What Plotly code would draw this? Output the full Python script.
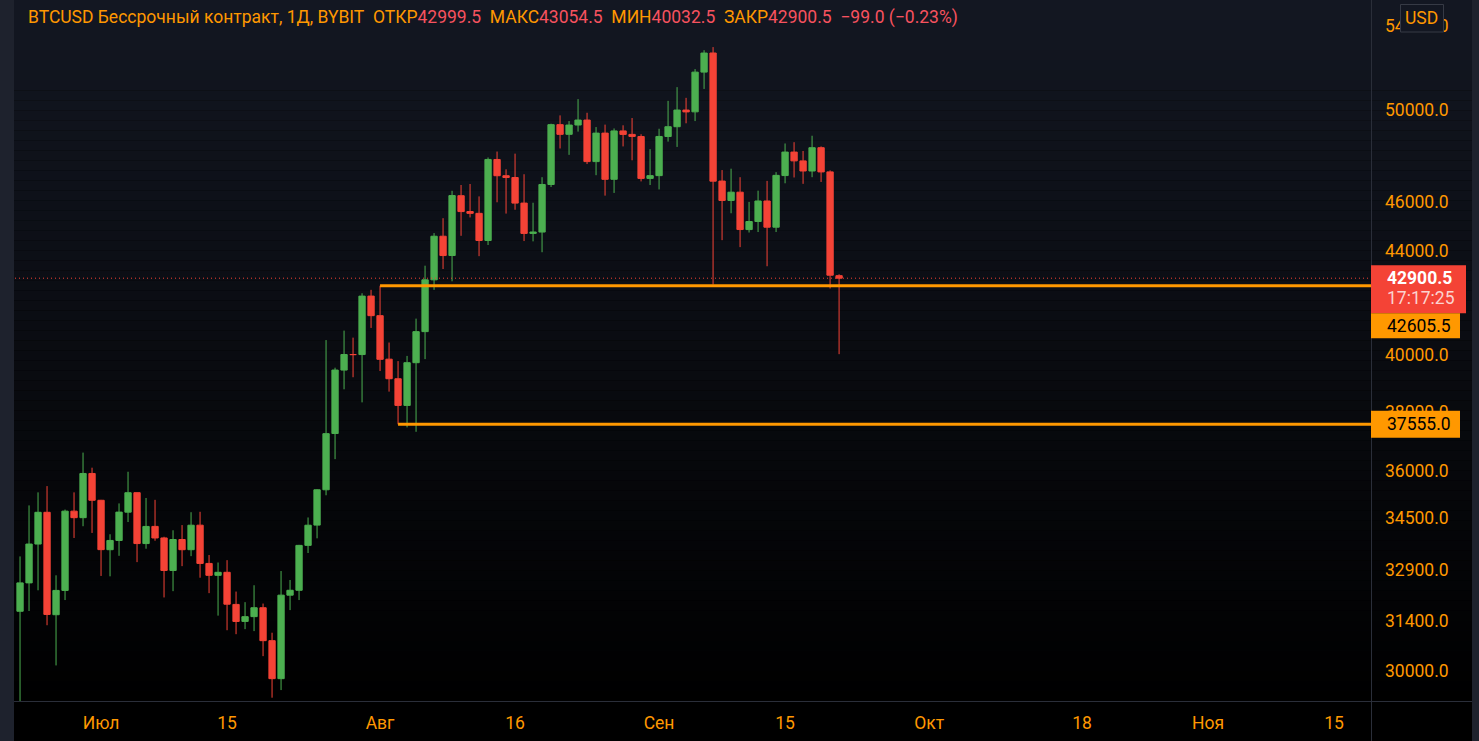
import math
import pandas as pd
import plotly.graph_objects as go

# ---------------- data ----------------
dates = pd.date_range("2021-06-21", "2021-09-21", freq="D").strftime("%Y-%m-%d").tolist()

opens = [35600, 31676, 32505, 33675, 34663, 31576, 32283, 34700, 34494, 35911,
         35045, 33502, 33786, 34668, 35288, 33690, 34221, 33863, 32875, 33815,
         33502, 34259, 33086, 32729, 32820, 31874, 31384, 31521, 31778, 30839,
         29790, 32144, 32287, 33635, 34261, 35381, 37241, 39456, 40020, 40018,
         42207, 41461, 39850, 39146, 38207, 39723, 40862, 42836, 44572, 43795,
         46248, 45585, 45511, 44400, 47799, 47097, 47019, 45937, 44686, 44741,
         46723, 49339, 48906, 49322, 49546, 47706, 48960, 46943, 49058, 48903,
         48807, 46982, 47100, 48810, 49246, 49999, 49918, 51757, 52666, 46868,
         46048, 46395, 44842, 45173, 46026, 44940, 47103, 48121, 47737, 47299,
         48314, 47261, 42999.5]
highs = [35750, 33298, 34881, 35298, 35500, 32730, 34750, 35298, 36600, 36100,
         35057, 33977, 34945, 35967, 35293, 35118, 35059, 33900, 34100, 34262,
         34666, 34679, 33340, 33114, 33185, 32249, 31939, 32435, 31899, 31063,
         32858, 32591, 33650, 34500, 35398, 40550, 39542, 40900, 40640, 42316,
         42448, 42605.5, 40459, 39780, 39969, 41350, 43392, 44700, 45310, 46454,
         46700, 46743, 46218, 47886, 48144, 47372, 48053, 47160, 45952, 47033,
         49382, 49757, 49500, 50500, 49875, 49230, 49340, 49169, 49309, 49637,
         48909, 48250, 49155, 50420, 51054, 50558, 51900, 52800, 52950, 47340,
         47399, 47033, 45987, 46460, 46876, 47250, 48500, 48557, 48170, 48843,
         48372, 47328, 43054.5]
lows = [31251, 28805, 31683, 32286, 31275, 30151, 32000, 33862, 34226, 34017,
        32711, 32700, 33316, 34357, 33125, 33532, 33777, 32077, 32261, 33004,
        33306, 32658, 32202, 31550, 31133, 31021, 31164, 31108, 30407, 29278,
        29482, 31708, 32000, 33401, 33851, 35205, 36383, 38772, 39200, 38313,
        41000, 39422, 38690, 37555, 37450, 37300, 39853, 42446, 43261, 42779,
        44589, 45341, 43770, 44217, 45971, 45500, 45660, 44376, 44364, 43927,
        46616, 48280, 48000, 49028, 47600, 47119, 46250, 46364, 48370, 47762,
        46853, 46700, 46512, 48583, 48348, 49400, 49500, 50969, 42650, 44412,
        45514, 44132, 44722, 44742, 43370, 44742, 46773, 47021, 46750, 47033,
        46829, 42500, 40032.5]
closes = [31676, 32505, 33675, 34663, 31584, 32283, 34700, 34494, 35911, 35045,
          33504, 33786, 34669, 35287, 33690, 34220, 33862, 32875, 33815, 33502,
          34258, 33086, 32729, 32820, 31880, 31383, 31520, 31778, 30839, 29790,
          32144, 32287, 33634, 34258, 35381, 37237, 39457, 40019, 40016, 42206,
          41461, 39845, 39147, 38207, 39723, 40862, 42836, 44572, 43794, 46253,
          45584, 45511, 44399, 47800, 47096, 47019, 45936, 44686, 44741, 46723,
          49339, 48905, 49321, 49546, 47706, 48960, 46942, 49058, 48903, 48813,
          46981, 47100, 48811, 49246, 49999, 49915, 51756, 52663, 46863, 46048,
          46395, 44843, 45173, 46026, 44940, 47112, 48121, 47738, 47300, 48314,
          47260, 43017, 42900.5]

level_high = 42605.5
level_high_start = "2021-08-01"
level_low = 37555.0
level_low_start = "2021-08-03"
countdown = "17:17:25"

y_tick_vals = [30000, 31400, 32900, 34500, 36000, 38000, 40000, 44000, 46000, 50000, 54000]
x_tick_dates = ["2021-07-01", "2021-07-15", "2021-08-01", "2021-08-16", "2021-09-01",
                "2021-09-15", "2021-10-01", "2021-10-18", "2021-11-01", "2021-11-15"]
x_tick_text = ["Июл", "15", "Авг", "16", "Сен", "15", "Окт", "18", "Ноя", "15"]

# ---------------- style / layout ----------------
W, H = 1479, 741
PL, PR, PT, PB = 15, 1371, 0, 701          # plot area in pixels
ORANGE = "#ff9800"
RED_TXT = "#f7525f"
GREEN = "#4caf50"
RED = "#f44336"
GRID = "#2a2e39"
STRIP = "#1e222d"
FONT = "Roboto"
FS = 17.5

y_min, y_max = 29190, 55270
x_range = ["2021-06-21 10:34", "2021-11-19 02:24"]
lmin, lmax = math.log10(y_min), math.log10(y_max)


def px_x(px):
    return (px - PL) / (PR - PL)


def px_y(py):
    return (PB - py) / (PB - PT)


def price_py(p):
    return PT + (lmax - math.log10(p)) / (lmax - lmin) * (PB - PT)


fig = go.Figure()

fig.add_trace(go.Candlestick(
    x=dates, open=opens, high=highs, low=lows, close=closes,
    increasing=dict(line=dict(color=GREEN, width=1), fillcolor=GREEN),
    decreasing=dict(line=dict(color=RED, width=1), fillcolor=RED),
    whiskerwidth=0, hoverinfo="skip", showlegend=False,
))

last_open, last_close = opens[-1], closes[-1]
fig.add_trace(go.Scatter(
    x=["2021-06-01", "2021-12-31"], y=[last_close, last_close], mode="lines",
    line=dict(color=RED, width=1, dash="1px,3px"), hoverinfo="skip", showlegend=False))
for lv, st in [(level_high, level_high_start), (level_low, level_low_start)]:
    fig.add_trace(go.Scatter(
        x=[st, "2021-12-31"], y=[lv, lv], mode="lines",
        line=dict(color=ORANGE, width=3), hoverinfo="skip", showlegend=False))

shapes = []
# gradient background
N = 70
for i in range(N):
    t = (i + 0.5) / N
    c = "rgb(%d,%d,%d)" % (round(19 * (1 - t)), round(23 * (1 - t)), round(34 * (1 - t)))
    shapes.append(dict(type="rect", xref="paper", yref="paper", layer="below",
                       x0=px_x(14), x1=px_x(1472), y0=px_y(PB * i / N), y1=px_y(PB * (i + 1) / N),
                       fillcolor=c, line=dict(width=0)))
# strips
shapes.append(dict(type="rect", xref="paper", yref="paper", layer="below",
                   x0=px_x(0), x1=px_x(14), y0=px_y(H), y1=px_y(0), fillcolor=STRIP, line=dict(width=0)))
shapes.append(dict(type="rect", xref="paper", yref="paper", layer="below",
                   x0=px_x(1472), x1=px_x(W), y0=px_y(H), y1=px_y(0), fillcolor=STRIP, line=dict(width=0)))
# separators
shapes.append(dict(type="line", xref="paper", yref="paper", layer="below",
                   x0=px_x(1371.5), x1=px_x(1371.5), y0=px_y(H), y1=px_y(0), line=dict(color=GRID, width=1)))
shapes.append(dict(type="line", xref="paper", yref="paper", layer="below",
                   x0=px_x(14), x1=px_x(1472), y0=px_y(701.5), y1=px_y(701.5), line=dict(color=GRID, width=1)))

# price labels on axis
y_last = price_py(last_close)
y_ll = price_py(level_low)
red_top = y_last - 13
red_bot = red_top + 48
shapes.append(dict(type="rect", xref="paper", yref="paper", layer="above",
                   x0=px_x(1371), x1=px_x(1466), y0=px_y(red_bot), y1=px_y(red_top),
                   fillcolor=RED, line=dict(width=0)))
shapes.append(dict(type="rect", xref="paper", yref="paper", layer="above",
                   x0=px_x(1371), x1=px_x(1460), y0=px_y(red_bot + 25), y1=px_y(red_bot),
                   fillcolor=ORANGE, line=dict(width=0)))
shapes.append(dict(type="rect", xref="paper", yref="paper", layer="above",
                   x0=px_x(1371), x1=px_x(1460), y0=px_y(y_ll + 13.5), y1=px_y(y_ll - 13.5),
                   fillcolor=ORANGE, line=dict(width=0)))
# USD badge
shapes.append(dict(type="rect", xref="paper", yref="paper", layer="above",
                   x0=px_x(1400.5), x1=px_x(1443.5), y0=px_y(32), y1=px_y(4.5),
                   fillcolor="#131722", line=dict(color="#363a45", width=1)))

annotations = []


def ann(text, px, py, color, size=FS, xanchor="left", bold=False):
    if bold:
        text = "<b>%s</b>" % text
    annotations.append(dict(text=text, xref="paper", yref="paper", x=px_x(px), y=px_y(py),
                            xanchor=xanchor, yanchor="middle", showarrow=False,
                            font=dict(family=FONT, size=size, color=color)))


ann("%.1f" % last_close, 1385, red_top + 13, "#ffffff", bold=True)
ann(countdown, 1385, red_top + 33, "#fbd3d0")
ann("%.1f" % level_high, 1385, red_bot + 12.5, "#000000")
ann("%.1f" % level_low, 1385, y_ll, "#000000")
ann("USD", 1422, 18, ORANGE, xanchor="center")

chg = last_close - last_open
pct = chg / last_open * 100
sp = "\u00a0\u00a0"
hdr = (f"<span style='color:{ORANGE}'>BTCUSD Бессрочный контракт, 1Д, BYBIT{sp}ОТКР</span>"
       f"<span style='color:{RED_TXT}'>{last_open:.1f}</span>"
       f"<span style='color:{ORANGE}'>{sp}МАКС</span><span style='color:{RED_TXT}'>{highs[-1]:.1f}</span>"
       f"<span style='color:{ORANGE}'>{sp}МИН</span><span style='color:{RED_TXT}'>{lows[-1]:.1f}</span>"
       f"<span style='color:{ORANGE}'>{sp}ЗАКР</span><span style='color:{RED_TXT}'>{last_close:.1f}</span>"
       f"<span style='color:{RED_TXT}'>{sp}\u2212{abs(chg):.1f} (\u2212{abs(pct):.2f}%)</span>")
ann(hdr, 26, 17, ORANGE)

fig.update_layout(
    width=W, height=H,
    margin=dict(l=PL, r=W - PR, t=PT, b=H - PB),
    paper_bgcolor="#000000", plot_bgcolor="rgba(0,0,0,0)",
    boxgap=0.3, boxgroupgap=0,
    shapes=shapes, annotations=annotations, showlegend=False,
    xaxis=dict(type="date", range=x_range, rangeslider=dict(visible=False),
               tickvals=x_tick_dates, ticktext=x_tick_text, showgrid=False, zeroline=False,
               showline=False, ticks="", ticklabelstandoff=9,
               tickfont=dict(family=FONT, size=FS, color=ORANGE)),
    yaxis=dict(type="log", side="right", range=[lmin, lmax], tickvals=y_tick_vals,
               ticktext=["%.1f" % v for v in y_tick_vals], showgrid=False, zeroline=False,
               showline=False, ticks="", ticklabelstandoff=13,
               tickfont=dict(family=FONT, size=FS, color=ORANGE)),
    hovermode=False,
)

fig.write_html("out.html", config={"displayModeBar": False},
               post_script="document.body.style.margin='0';document.body.style.overflow='hidden';")
